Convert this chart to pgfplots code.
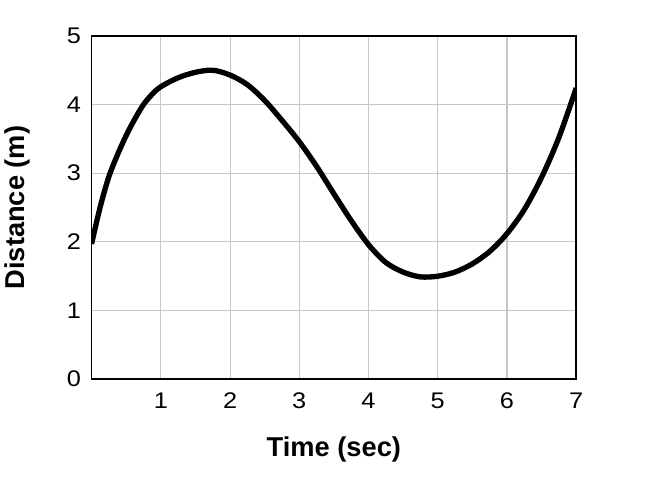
\documentclass[border=0pt]{standalone}
\usepackage{fontspec}
\setmainfont{Liberation Sans}
\newfontfamily\tickfont[FakeStretch=1.12]{Liberation Sans}
\usepackage{pgfplots}
\pgfplotsset{compat=1.18}
\begin{document}
\begin{tikzpicture}
\begin{axis}[
  name=ax,
  scale only axis,
  width=364.5pt, height=258.2pt,
  xmin=0, xmax=7, ymin=0, ymax=5,
  xtick={1,2,3,4,5,6,7},
  ytick={0,1,2,3,4,5},
  grid=major,
  grid style={draw=black!22, line width=0.8pt},
  major tick length=0pt,
  axis line style={line width=1.1pt},
  /pgf/number format/assume math mode=true,
  tick label style={font=\tickfont\fontsize{17}{20}\selectfont},
  xticklabel style={yshift=-7pt},
  yticklabel style={xshift=-4.5pt},
  xlabel={Time (sec)},
  ylabel={Distance (m)},
  label style={font=\fontsize{20.5}{24}\selectfont\bfseries},
  xlabel style={at={(axis description cs:0.5,-0.2033)}, anchor=center},
  ylabel style={at={(axis description cs:-0.1536,0.5)}, anchor=center},
  clip=true,
]
\addplot[black, line width=4pt, smooth] coordinates {
(0,1.97) (0.125,2.51) (0.25,2.95) (0.375,3.27) (0.5,3.55) (0.625,3.79) (0.75,4.00)
(0.875,4.15) (1.0,4.26) (1.25,4.39)
(1.5,4.47) (1.75,4.50) (2.0,4.43) (2.25,4.29) (2.5,4.06) (2.75,3.77) (3.0,3.46)
(3.25,3.10) (3.5,2.70) (3.75,2.31) (4.0,1.96) (4.25,1.70) (4.5,1.56) (4.75,1.49)
(5.0,1.50) (5.25,1.56) (5.5,1.68) (5.75,1.86) (6.0,2.12) (6.25,2.47) (6.5,2.94)
(6.75,3.52) (7.0,4.24)
};
\end{axis}
\path[use as bounding box] ([xshift=-67.5pt,yshift=-79.5pt]ax.south west) rectangle ([xshift=55.5pt,yshift=27pt]ax.north east);
\end{tikzpicture}
\end{document}
